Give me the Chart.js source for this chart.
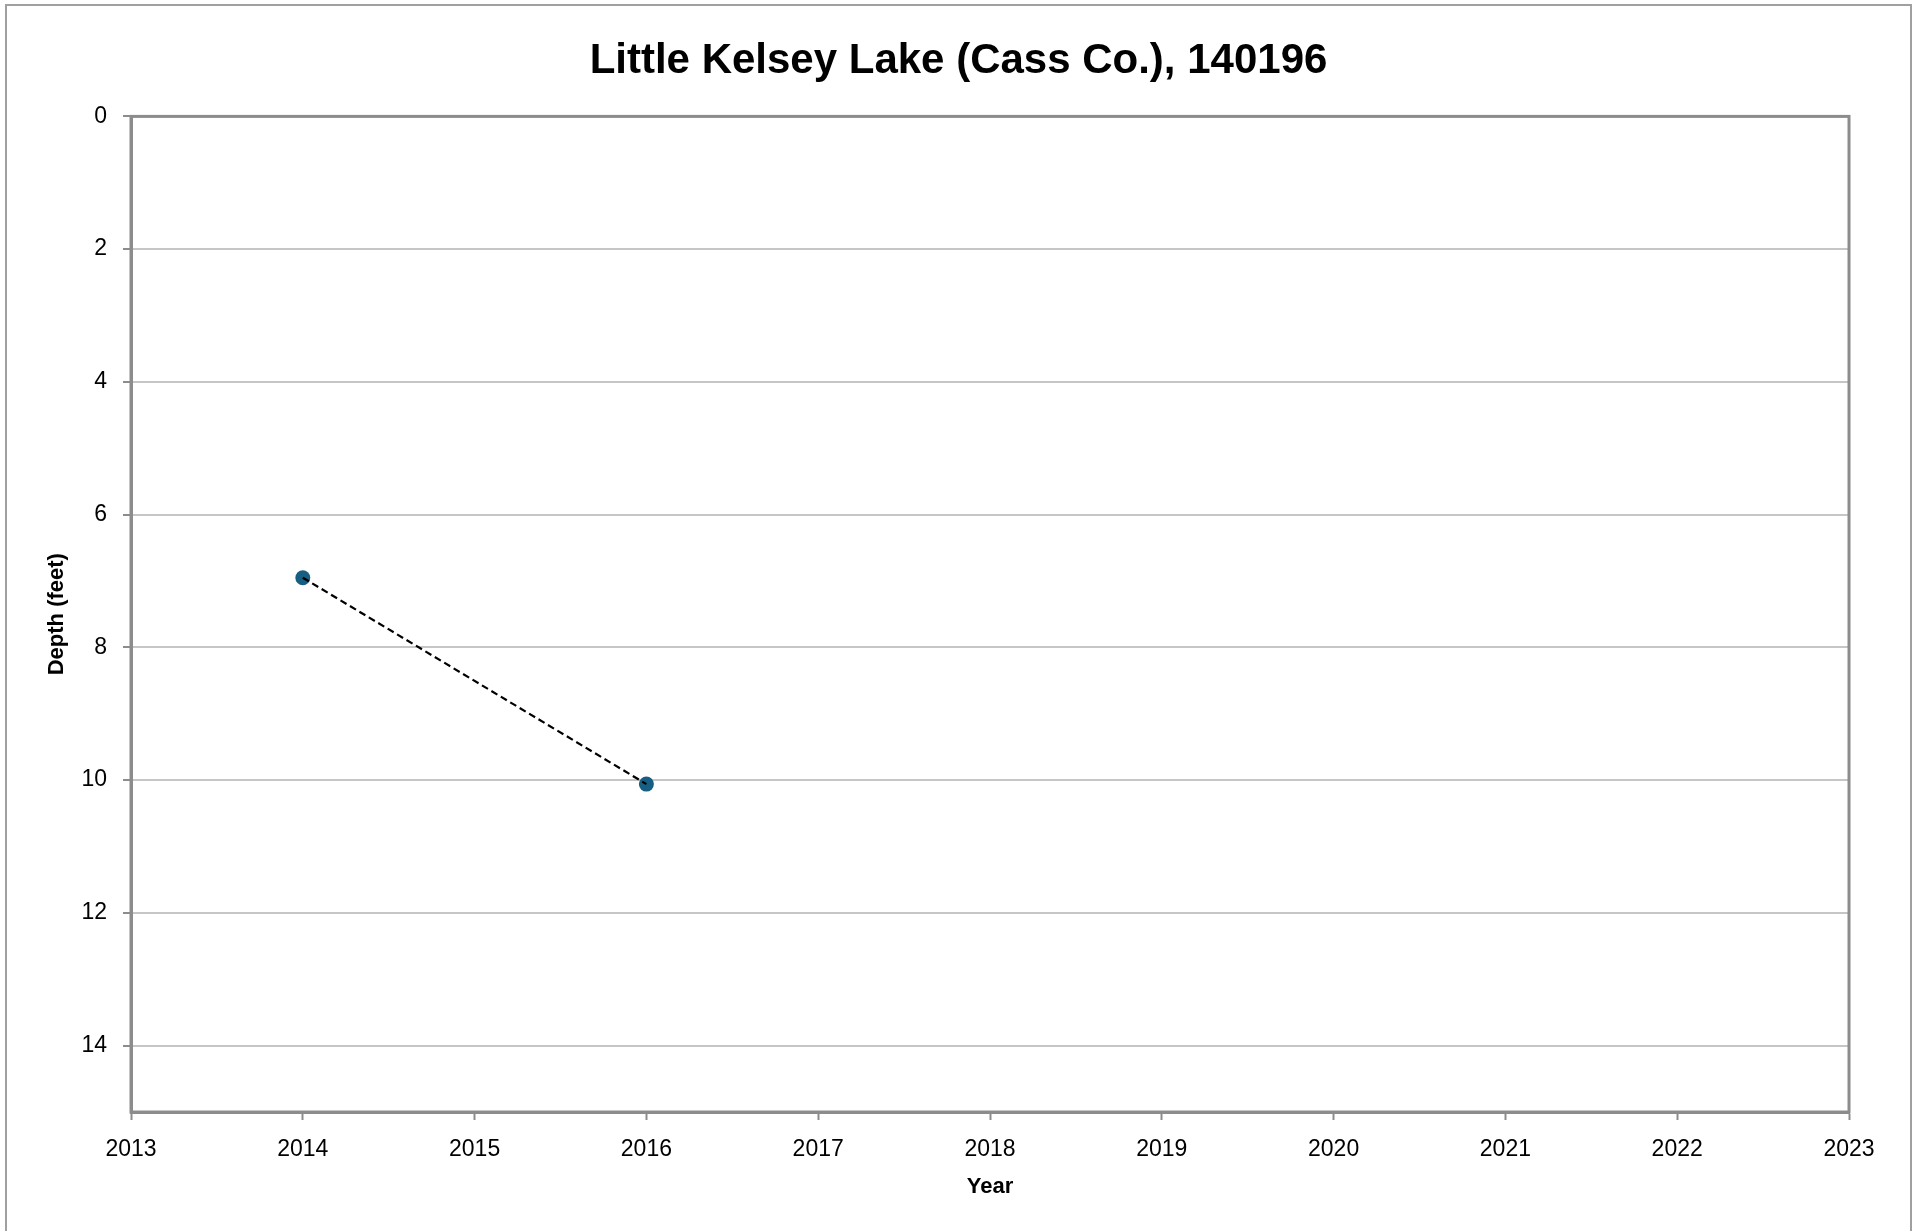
<!DOCTYPE html>
<html>
<head>
<meta charset="utf-8">
<script src="https://cdn.jsdelivr.net/npm/chart.js@4.4.1/dist/chart.umd.min.js"></script>
<style>
  html, body { margin: 0; padding: 0; background: #fff; }
  #wrap { width: 1917px; height: 1231px; }
</style>
</head>
<body>
<div id="wrap"><canvas id="myChart" width="1917" height="1231"></canvas></div>
<script>
// Datos
const chartTitle = 'Little Kelsey Lake (Cass Co.), 140196';
const years = [2014, 2016];
const depths = [6.95, 10.06];
const xMin = 2013, xMax = 2023;
const yMin = 0, yMax = 15;

const axisGray = '#8c8c8c';
const gridGray = '#c6c6c6';

const points = years.map((y, i) => ({ x: y, y: depths[i] }));

// Fondo, marco exterior y recuadro del area de trazado
const framePlugin = {
    id: 'frame',
    beforeDraw(chart) {
        const ctx = chart.ctx;
        ctx.save();
        ctx.fillStyle = '#fff';
        ctx.fillRect(0, 0, chart.width, chart.height);
        ctx.strokeStyle = '#a0a0a0';
        ctx.lineWidth = 2;
        ctx.strokeRect(6, 5, chart.width - 12, chart.height + 20);
        ctx.restore();
    },
    beforeDatasetsDraw(chart) {
        const a = chart.chartArea;
        const ctx = chart.ctx;
        ctx.save();
        ctx.strokeStyle = axisGray;
        ctx.lineWidth = 3;
        ctx.strokeRect(a.left, a.top, a.right - a.left, a.bottom - a.top);
        ctx.restore();
    }
};

const ctx = document.getElementById('myChart').getContext('2d');
const chart = new Chart(ctx, {
    type: 'scatter',
    data: {
        datasets: [{
            // linea discontinua encima de los puntos
            data: points,
            showLine: true,
            borderColor: '#000',
            borderWidth: 2.2,
            borderDash: [7, 4],
            pointRadius: 0,
            fill: false
        }, {
            data: points,
            showLine: false,
            pointRadius: 7.5,
            pointBackgroundColor: '#165e82',
            pointBorderColor: '#165e82',
            pointBorderWidth: 0
        }]
    },
    options: {
        responsive: false,
        animation: false,
        layout: { padding: 0 },
        plugins: {
            legend: { display: false },
            tooltip: { enabled: false },
            title: {
                display: true,
                text: chartTitle,
                color: '#000',
                font: { family: '"Liberation Sans Narrow", "Arial Narrow", "Liberation Sans", sans-serif', size: 42, weight: 'bold' },
                padding: { top: 36, bottom: 30 }
            }
        },
        scales: {
            x: {
                type: 'linear',
                min: xMin,
                max: xMax,
                afterFit: s => { s.height = 119; },
                ticks: {
                    stepSize: 1,
                    color: '#000',
                    padding: 16,
                    font: { family: '"Liberation Sans", Arial, sans-serif', size: 23 },
                    callback: v => String(v)
                },
                grid: {
                    drawOnChartArea: false,
                    drawTicks: true,
                    tickLength: 8,
                    tickColor: axisGray,
                    tickWidth: 2
                },
                border: { color: axisGray, width: 3 },
                title: {
                    display: true,
                    text: 'Year',
                    color: '#000',
                    font: { family: '"Liberation Sans", Arial, sans-serif', size: 22, weight: 'bold' },
                    padding: { top: 0, bottom: 31 }
                }
            },
            y: {
                type: 'linear',
                reverse: true,
                min: yMin,
                max: yMax,
                afterFit: s => { s.width = 131; },
                afterBuildTicks: s => { s.ticks = s.ticks.filter(t => t.value <= 14); },
                ticks: {
                    stepSize: 2,
                    color: '#000',
                    padding: 16,
                    font: { family: '"Liberation Sans", Arial, sans-serif', size: 23 }
                },
                grid: {
                    color: gridGray,
                    lineWidth: 2,
                    drawTicks: true,
                    tickLength: 8,
                    tickColor: axisGray,
                    tickWidth: 2
                },
                border: { color: axisGray, width: 3 },
                title: {
                    display: true,
                    text: 'Depth (feet)',
                    color: '#000',
                    font: { family: '"Liberation Sans", Arial, sans-serif', size: 22, weight: 'bold' },
                    padding: { top: 44, bottom: 0 }
                }
            },
            // eje vacio a la derecha solo para dejar el margen
            yRight: {
                type: 'linear',
                position: 'right',
                min: yMin,
                max: yMax,
                afterFit: s => { s.width = 68; },
                ticks: { display: false },
                grid: { display: false },
                border: { display: false }
            }
        }
    },
    plugins: [framePlugin]
});
</script>
</body>
</html>
